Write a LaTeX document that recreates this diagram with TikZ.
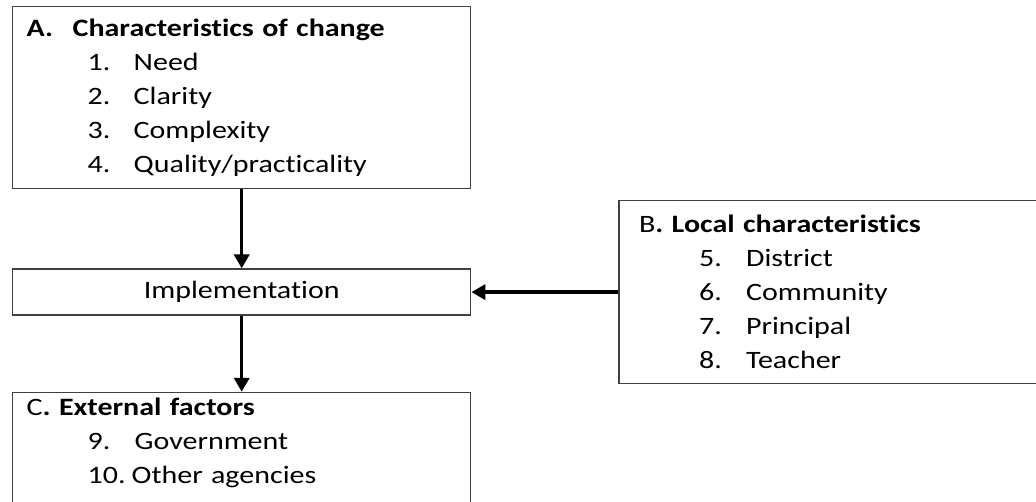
\documentclass[tikz,border=0pt]{standalone}
\usepackage{fontspec}
\setmainfont{Carlito}[FakeStretch=1.2, Ligatures=NoCommon]
\usepackage{tikz}
\usetikzlibrary{arrows.meta, positioning}
\tikzset{
  listbox/.style={rectangle, draw=black!75, line width=1.4pt, align=left, anchor=north west, inner xsep=13pt, font=\fontsize{25}{34}\selectfont},
  implbox/.style={rectangle, draw=black!75, line width=1.4pt, minimum width=458pt, minimum height=46pt, font=\fontsize{25}{34}\selectfont},
  arr/.style={-{Triangle[length=14pt, width=15pt]}, line width=3.5pt},
}
\newcommand{\listitem}[4]{\hspace*{#1}\makebox[#2][l]{#3}#4}

\begin{document}
\begin{tikzpicture}
  \useasboundingbox (0,0) rectangle (1036pt,-501pt);
  \clip (0,0) rectangle (1036pt,-501pt);
  % Boxes
  \node[listbox, text width=430pt, minimum width=458pt, minimum height=182pt] (change) at (12pt,-6pt)
    {\makebox[46pt][l]{\textbf{A.}}\textbf{Characteristics of change}\\
     \listitem{61pt}{46pt}{1.}{Need}\\
     \listitem{61pt}{46pt}{2.}{Clarity}\\
     \listitem{61pt}{46pt}{3.}{Complexity}\\
     \listitem{61pt}{46pt}{4.}{Quality/practicality}};
  \node[implbox, below=79pt of change] (impl) {Implementation};
  \node[listbox, text width=440pt, minimum width=480pt, minimum height=183pt, right=147pt of impl] (local)
    {B\textbf{. Local characteristics}\\
     \listitem{60pt}{47pt}{5.}{District}\\
     \listitem{60pt}{47pt}{6.}{Community}\\
     \listitem{60pt}{47pt}{7.}{Principal}\\
     \listitem{60pt}{47pt}{8.}{Teacher}};
  \node[listbox, inner ysep=5pt, text width=430pt, minimum width=458pt, below=76pt of impl] (external)
    {C\textbf{. External factors}\\
     \listitem{61pt}{47pt}{9.}{Government}\\
     \listitem{61pt}{44pt}{10.}{Other agencies}\rule[-80pt]{0pt}{80pt}};

  % Arrows
  \draw[arr] (change) -- (impl);
  \draw[arr] (impl) -- (external);
  \draw[arr] (local) -- (impl);
\end{tikzpicture}
\end{document}
